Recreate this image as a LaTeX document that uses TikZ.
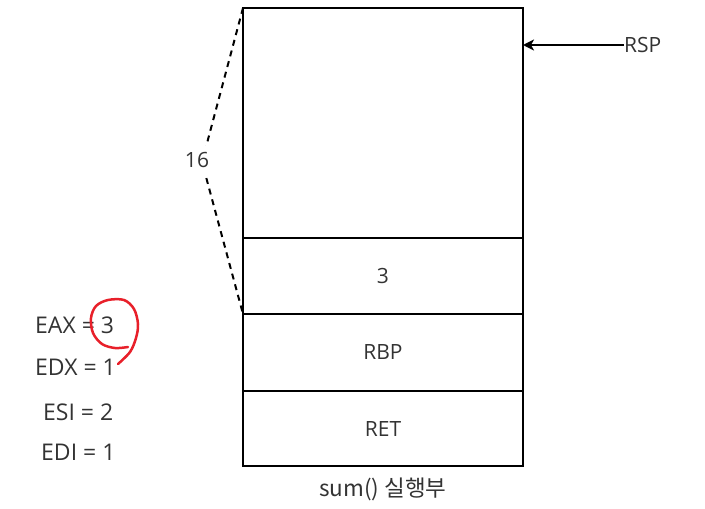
\documentclass[tikz,border=0pt]{standalone}
\usepackage{fontspec}
\setmainfont{Open Sans}
\newfontfamily\krfont{Noto Sans CJK KR}
\usetikzlibrary{positioning,arrows.meta}
\definecolor{txtgray}{HTML}{333333}
\definecolor{penred}{HTML}{E8202A}

\tikzset{
  cell/.style={draw, line width=2pt, minimum width=280pt, outer sep=0pt, inner sep=0pt,
    text=txtgray, font=\fontsize{21}{24}\selectfont},
  reg/.style={anchor=west, text=txtgray, inner sep=0pt, font=\fontsize{23}{26}\selectfont},
}

\begin{document}
\begin{tikzpicture}[x=1pt,y=-1pt]
\useasboundingbox (0,0) rectangle (705,509);

% stack frame
\node[cell, minimum height=230pt, anchor=north west] (free) at (243,8) {};
\node[cell, minimum height=76pt, below=0pt of free] (val) {3};
\node[cell, minimum height=77pt, below=0pt of val] (rbp) {RBP};
\node[cell, minimum height=75pt, below=0pt of rbp] (ret) {RET};
\node[text=txtgray, font=\fontsize{22.5}{26}\selectfont\krfont, below=8pt of ret] (caption) {sum() 실행부};

% size bracket
\coordinate (bend) at (202,162);
\draw[line width=2pt, dash pattern=on 6pt off 5pt] (free.north west) -- (bend) -- (val.south west);
\node[fill=white, text=txtgray, inner xsep=1pt, inner ysep=6pt, font=\fontsize{21}{24}\selectfont] (size) at (197,160) {16};

% stack pointer
\node[text=txtgray, anchor=west, inner sep=0pt, font=\fontsize{21}{24}\selectfont] (rsp) at (624,45) {RSP};
\draw[line width=2pt, -{Stealth[length=11pt,width=11pt,inset=3pt]}] (rsp.west) -- (rsp.west -| free.east);

% registers
\node[reg] (eax) at (35,325) {EAX = 3};
\node[reg] (edx) at (35,367) {EDX = 1};
\node[reg] (esi) at (43,412) {ESI = 2};
\node[reg] (edi) at (41,452) {EDI = 1};

% hand drawn mark
\draw[penred, line width=2.5pt, line cap=round, line join=round]
  plot[smooth, tension=0.55] coordinates {(118,364) (130,352) (136,338) (138,324) (134,309) (124,300) (108,300) (96,306) (91,318) (93,333) (102,344) (115,348) (128,347)};
\end{tikzpicture}
\end{document}
